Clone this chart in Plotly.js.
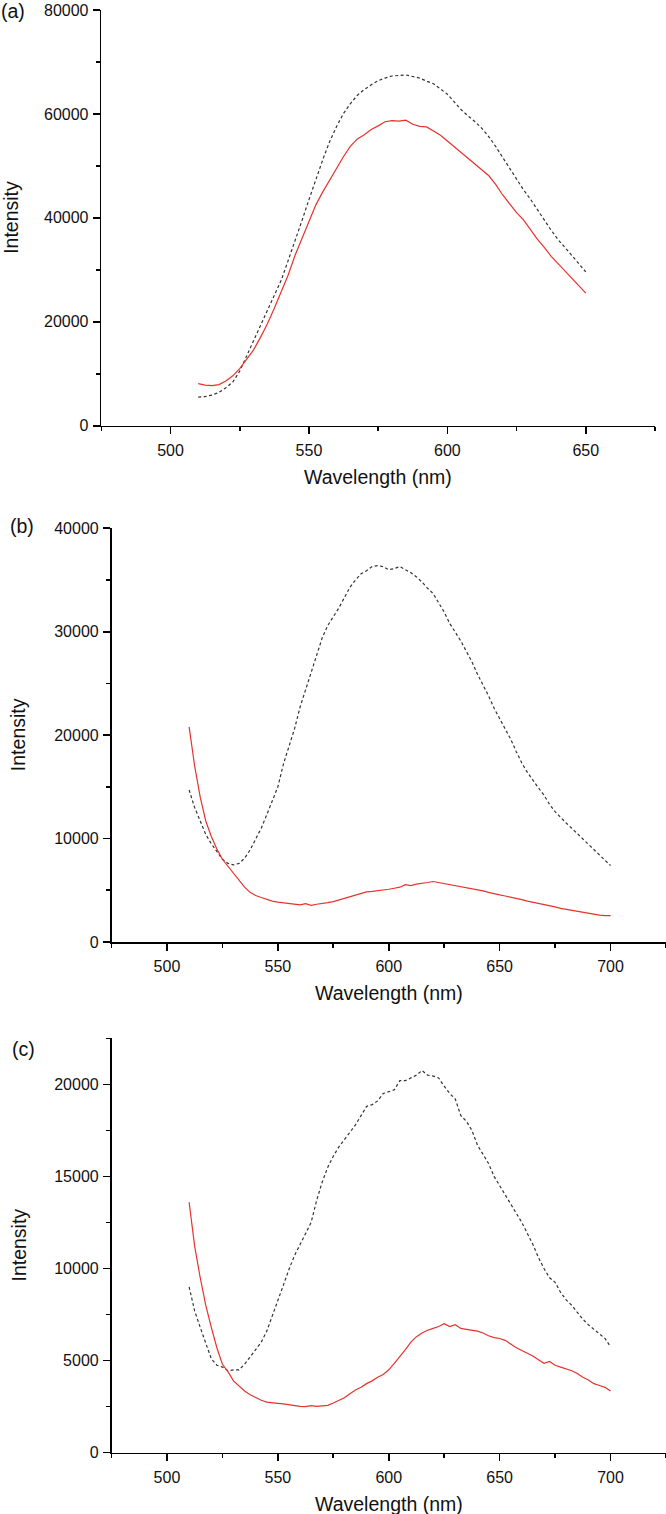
<!DOCTYPE html>
<html><head><meta charset="utf-8">
<script src="https://cdn.plot.ly/plotly-3.0.1.min.js"></script>
<style>html,body{margin:0;padding:0;background:#fff;}#chart{width:666px;height:1514px;}</style>
</head><body><div id="chart"></div>
<script>
// ---------- data ----------
const wlA = [510,512.5,515,517.5,520,522.5,525,527.5,530,532.5,535,537.5,540,542.5,545,547.5,550,552.5,555,557.5,560,562.5,565,567.5,570,572.5,575,577.5,580,582.5,585,587.5,590,592.5,595,597.5,600,602.5,605,607.5,610,612.5,615,617.5,620,622.5,625,627.5,630,632.5,635,637.5,640,642.5,645,647.5,650];
const dashA = [5500,5600,5900,6400,7300,8400,10500,13400,16200,19000,22000,25000,28000,31800,35500,39500,43500,47500,51200,54700,57600,60100,62000,63600,64700,65600,66400,66900,67300,67400,67500,67200,66900,66300,65800,64800,63800,62300,60800,59600,58500,57200,55600,53700,51600,49500,47400,45400,43600,41500,39600,37600,35800,34300,32800,31100,29600];
const redA = [8100,7800,7700,7900,8600,9600,11000,12700,14600,17000,19600,22600,25800,29000,32800,36000,39500,42500,45000,47300,49500,51800,53800,55200,56000,57000,57700,58500,58700,58600,58800,58000,57600,57500,56700,55900,54800,53700,52600,51400,50300,49300,48100,46400,44400,42700,41000,39600,37700,35900,34300,32600,31200,29800,28500,27000,25500];

const wlBC = [510,512.5,515,517.5,520,522.5,525,527.5,530,532.5,535,537.5,540,542.5,545,547.5,550,552.5,555,557.5,560,562.5,565,567.5,570,572.5,575,577.5,580,582.5,585,587.5,590,592.5,595,597.5,600,602.5,605,607.5,610,612.5,615,617.5,620,622.5,625,627.5,630,632.5,635,637.5,640,642.5,645,647.5,650,652.5,655,657.5,660,662.5,665,667.5,670,672.5,675,677.5,680,682.5,685,687.5,690,692.5,695,697.5,700];
const dashB = [14700,13000,11700,10400,9500,8700,8000,7600,7450,7600,8100,8900,9900,11000,12300,13600,15000,17200,18900,20600,22700,24400,26100,27600,29400,30600,31400,32300,33300,34300,35000,35600,35900,36300,36400,36300,36000,36100,36300,36000,35700,35300,34800,34200,33700,32800,31900,30800,30000,29100,28100,27100,25900,24900,23800,22600,21600,20500,19600,18400,17300,16400,15600,14900,14200,13300,12600,12000,11500,11000,10500,10000,9500,9000,8500,7900,7400];
const redB = [20800,17000,14000,11700,10200,9000,8000,7300,6700,6000,5300,4800,4500,4300,4100,3950,3850,3780,3700,3650,3600,3700,3550,3650,3700,3800,3900,4050,4250,4400,4550,4700,4850,4900,4950,5050,5100,5200,5300,5550,5450,5600,5650,5750,5850,5750,5650,5600,5500,5400,5250,5150,5050,4950,4800,4650,4550,4450,4350,4200,4100,3950,3850,3750,3650,3500,3400,3250,3150,3050,2950,2850,2750,2650,2600,2550,2550];
const dashC = [9000,7700,6800,6000,5100,4750,4650,4450,4500,4500,4800,5200,5600,6000,6600,7400,8300,9100,9950,10700,11300,11900,12500,13700,14700,15500,16100,16600,17000,17400,17800,18300,18800,18900,19100,19500,19600,19700,20200,20200,20350,20500,20750,20500,20450,20350,19900,19500,19200,18300,18000,17500,16700,16200,15700,15000,14500,14000,13500,13000,12500,11900,11300,10600,10000,9500,9250,8700,8300,8000,7600,7250,6950,6700,6400,6200,5750];
const redC = [13600,11200,9500,8000,6800,5700,4800,4400,3900,3600,3350,3150,3000,2850,2750,2700,2680,2650,2600,2550,2520,2500,2560,2520,2550,2570,2700,2850,2980,3200,3400,3550,3750,3900,4100,4250,4500,4850,5200,5600,6000,6300,6500,6650,6750,6850,7000,6850,6950,6750,6700,6650,6600,6500,6350,6250,6200,6100,5900,5700,5550,5400,5250,5050,4850,4950,4750,4650,4550,4450,4300,4100,3950,3750,3650,3550,3350];

const xTitle = "Wavelength (nm)";
const yTitle = "Intensity";
const panelLabels = ["(a)", "(b)", "(c)"];

// ---------- layout helpers ----------
const W = 666, H = 1514;
const FONT = "Liberation Sans, Arial, Helvetica, sans-serif";
const fx = p => p / W, fy = p => 1 - p / H;
const RED = "#e8322d", DASH = "#333333";

const panels = [
  {x0:101.3, x1:655, y0:10, y1:425.7, xr:[475,675], yr:[0,80000], ydt:20000, ymin:10000, ytx:11, lab:[12.5,11]},
  {x0:111.5, x1:666, y0:528.3, y1:942, xr:[475,725], yr:[0,40000], ydt:10000, ymin:5000, ytx:18, lab:[22,526]},
  {x0:111.5, x1:666, y0:1038.3, y1:1452.7, xr:[475,725], yr:[0,22500], ydt:5000, ymin:2500, ytx:18, lab:[23,1049]}
];
const series = [[wlA,dashA,redA],[wlBC,dashB,redB],[wlBC,dashC,redC]];

const layout = {
  width: W, height: H, margin:{l:0,r:0,t:0,b:0},
  paper_bgcolor:"#fff", plot_bgcolor:"rgba(0,0,0,0)",
  showlegend:false, font:{family:FONT, color:"#111", size:16},
  annotations: []
};
const traces = [];
panels.forEach((p, i) => {
  const n = i === 0 ? "" : String(i+1);
  const axStyle = {
    showline:true, linecolor:"#000", linewidth:1.6,
    ticks:"outside", ticklen:7, tickwidth:1.6, tickcolor:"#000",
    showgrid:false, zeroline:false, fixedrange:true,
    tickformat:"d", exponentformat:"none", separatethousands:false,
    tickfont:{family:FONT, size:16, color:"#111"}
  };
  layout["xaxis"+n] = Object.assign({}, axStyle, {
    domain:[fx(p.x0), fx(p.x1)], range:p.xr, anchor:"y"+n,
    tick0:500, dtick:50, ticklabelstandoff:2,
    minor:{tick0:475, dtick:25, ticks:"outside", ticklen:4, tickwidth:1.6, tickcolor:"#000", showgrid:false}
  });
  layout["yaxis"+n] = Object.assign({}, axStyle, {
    domain:[fy(p.y1), fy(p.y0)], range:p.yr, anchor:"x"+n,
    tick0:0, dtick:p.ydt, ticklabelstandoff:1,
    minor:{tick0:0, dtick:p.ymin, ticks:"outside", ticklen:4, tickwidth:1.6, tickcolor:"#000", showgrid:false}
  });
  const [wl, d, r] = series[i];
  traces.push({x:wl, y:d, type:"scatter", mode:"lines", xaxis:"x"+n, yaxis:"y"+n,
    line:{color:DASH, width:1.2, dash:"3px,2.5px"}, hoverinfo:"skip"});
  traces.push({x:wl, y:r, type:"scatter", mode:"lines", xaxis:"x"+n, yaxis:"y"+n,
    line:{color:RED, width:1.2}, hoverinfo:"skip"});
  layout.annotations.push({text:xTitle, xref:"paper", yref:"paper",
    x:fx((p.x0+p.x1)/2), y:fy(p.y1+51), xanchor:"center", yanchor:"middle",
    showarrow:false, font:{family:FONT, size:19.5, color:"#111"}});
  layout.annotations.push({text:yTitle, xref:"paper", yref:"paper", textangle:-90,
    x:fx(p.ytx), y:fy((p.y0+p.y1)/2), xanchor:"center", yanchor:"middle",
    showarrow:false, font:{family:FONT, size:19.5, color:"#111"}});
  layout.annotations.push({text:panelLabels[i], xref:"paper", yref:"paper",
    x:fx(p.lab[0]), y:fy(p.lab[1]), xanchor:"center", yanchor:"middle",
    showarrow:false, font:{family:FONT, size:19.5, color:"#111"}});
});

Plotly.newPlot("chart", traces, layout, {staticPlot:true, displayModeBar:false});
</script>
</body></html>
